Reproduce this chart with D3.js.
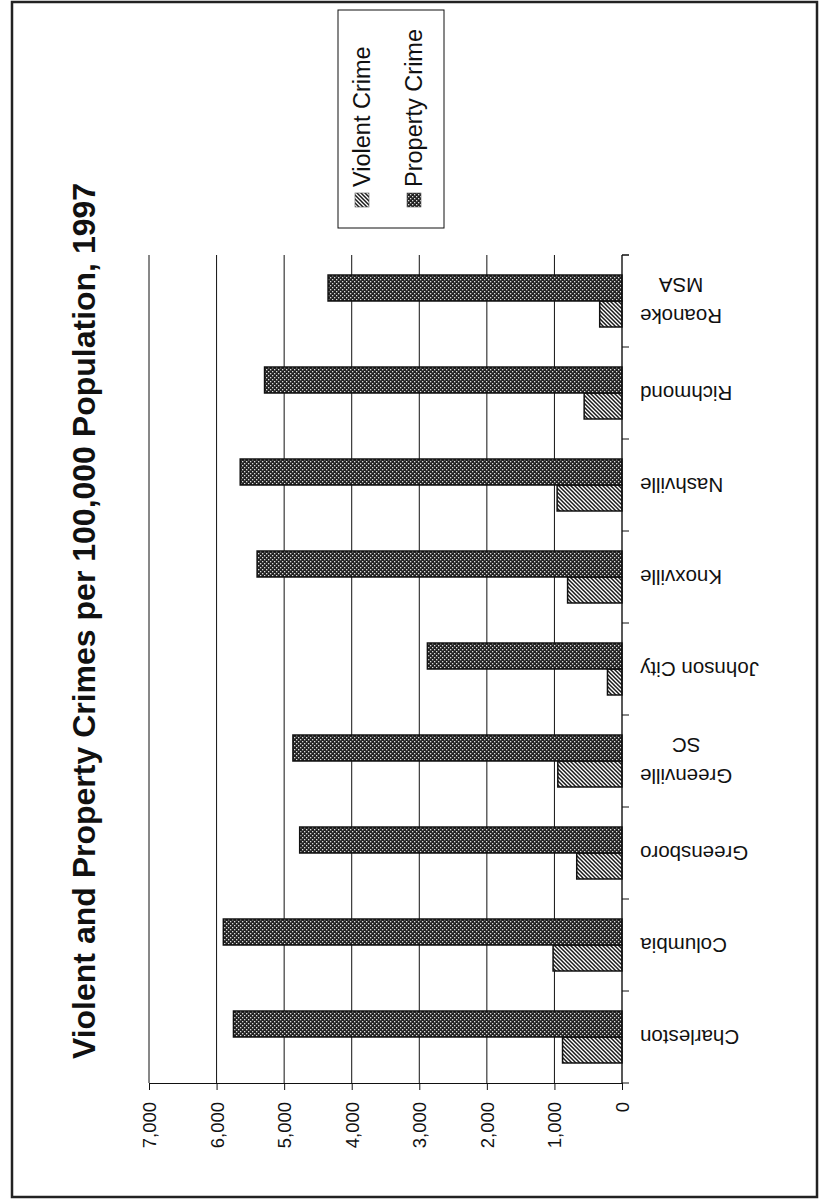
<!DOCTYPE html>
<html>
<head>
<meta charset="utf-8">
<script src="https://cdn.jsdelivr.net/npm/d3@7"></script>
<style>
  body { margin: 0; background: #fff; }
  svg text { font-family: "Liberation Sans", Arial, sans-serif; fill: #111; }
</style>
</head>
<body>
<div id="chart"></div>
<script>
var title = "Violent and Property Crimes per 100,000 Population, 1997";
var categories = ["Charleston", "Columbia", "Greensboro", "Greenville\nSC", "Johnson City",
                  "Knoxville", "Nashville", "Richmond", "Roanoke\nMSA"];
var violent = [880, 1020, 670, 950, 215, 805, 960, 560, 330];
var property = [5750, 5900, 4770, 4870, 2880, 5400, 5650, 5290, 4350];
var seriesNames = ["Violent Crime", "Property Crime"];
var valueTicks = [0, 1000, 2000, 3000, 4000, 5000, 6000, 7000];

function draw_chart() {
    var W = 820, H = 1200;
    // the page is printed sideways: values run right to left, cities top to bottom
    var plot = { left: 149, right: 622, top: 255, bottom: 1083 };

    var svg = d3.select("#chart")
        .append("svg")
        .attr("width", W)
        .attr("height", H);

    var defs = svg.append("defs");
    var pv = defs.append("pattern")
        .attr("id", "hatch")
        .attr("patternUnits", "userSpaceOnUse")
        .attr("width", 4).attr("height", 4);
    pv.append("rect").attr("width", 4).attr("height", 4).attr("fill", "#fff");
    pv.append("path")
        .attr("d", "M0,0L4,4M-1,3L1,5M3,-1L5,1")
        .attr("stroke", "#1a1a1a")
        .attr("stroke-width", 1.5);

    var pp = defs.append("pattern")
        .attr("id", "dots")
        .attr("patternUnits", "userSpaceOnUse")
        .attr("width", 4).attr("height", 4);
    pp.append("rect").attr("width", 4).attr("height", 4).attr("fill", "#222");
    pp.append("rect").attr("x", 0).attr("y", 0).attr("width", 1.3).attr("height", 1.3).attr("fill", "#ddd");
    pp.append("rect").attr("x", 2).attr("y", 2).attr("width", 1.3).attr("height", 1.3).attr("fill", "#ddd");

    var fills = { "Violent Crime": "url(#hatch)", "Property Crime": "url(#dots)" };

    // page border
    svg.append("rect")
        .attr("x", 12).attr("y", 2)
        .attr("width", 805).attr("height", 1195)
        .attr("fill", "none")
        .attr("stroke", "#222")
        .attr("stroke-width", 2.5);

    var x = d3.scaleLinear()
        .domain([0, 7000])
        .range([plot.right, plot.left]);

    var y0 = d3.scaleBand()
        .domain(categories)
        .range([plot.bottom, plot.top]);

    var y1 = d3.scaleBand()
        .domain(["Property Crime", "Violent Crime"])
        .range([0, y0.bandwidth()])
        .paddingOuter(0.77);

    // gridlines
    svg.append("g")
        .selectAll("line")
        .data(valueTicks.filter(function(d) { return d > 0; }))
        .enter()
        .append("line")
        .attr("x1", function(d) { return x(d); })
        .attr("x2", function(d) { return x(d); })
        .attr("y1", plot.top)
        .attr("y2", plot.bottom)
        .attr("stroke", "#111")
        .attr("stroke-width", 1);

    // value axis along the bottom edge
    var xAxis = svg.append("g")
        .attr("transform", "translate(0," + plot.bottom + ")")
        .call(d3.axisBottom(x).tickValues(valueTicks).tickFormat(d3.format(",")).tickSize(7).tickSizeOuter(0));
    xAxis.select(".domain").attr("stroke", "#111").attr("stroke-width", 1.2);
    xAxis.selectAll(".tick line").attr("stroke", "#111");
    xAxis.selectAll(".tick text")
        .attr("transform", "translate(0,19) rotate(-90)")
        .attr("x", 0).attr("y", 0)
        .attr("dy", "0.35em")
        .attr("text-anchor", "end")
        .style("font-size", "18.5px")
        .style("font-family", "'Liberation Sans', Arial, sans-serif")
        .attr("fill", "#111");

    // bars
    var rows = categories.map(function(c, i) {
        return { cat: c, values: [
            { name: "Violent Crime", value: violent[i] },
            { name: "Property Crime", value: property[i] }
        ] };
    });

    svg.append("g")
        .selectAll("g")
        .data(rows)
        .enter()
        .append("g")
        .attr("transform", function(d) { return "translate(0," + y0(d.cat) + ")"; })
        .selectAll("rect")
        .data(function(d) { return d.values; })
        .enter()
        .append("rect")
        .attr("x", function(d) { return x(d.value); })
        .attr("y", function(d) { return y1(d.name); })
        .attr("width", function(d) { return x(0) - x(d.value); })
        .attr("height", y1.bandwidth())
        .attr("fill", function(d) { return fills[d.name]; })
        .attr("stroke", "#111")
        .attr("stroke-width", 1.5);

    // category axis on the right side of the plot
    svg.append("line")
        .attr("x1", x(0)).attr("x2", x(0))
        .attr("y1", plot.top).attr("y2", plot.bottom)
        .attr("stroke", "#111")
        .attr("stroke-width", 1.4);

    var bounds = categories.map(function(c) { return y0(c); }).concat([plot.top, plot.bottom]);
    svg.append("g")
        .selectAll("line")
        .data(bounds)
        .enter()
        .append("line")
        .attr("x1", x(0)).attr("x2", x(0) + 7)
        .attr("y1", function(d) { return d; })
        .attr("y2", function(d) { return d; })
        .attr("stroke", "#111");

    var lineH = 31;
    var labels = svg.append("g")
        .selectAll("text")
        .data(categories)
        .enter()
        .append("text")
        .attr("text-anchor", "middle")
        .style("font-size", "20.5px");
    labels.each(function(c) {
        var lines = c.split("\n");
        var t = d3.select(this);
        lines.forEach(function(s, i) {
            t.append("tspan")
                .attr("x", 0)
                .attr("y", (i - (lines.length - 1) / 2) * lineH)
                .attr("dy", "0.35em")
                .text(s);
        });
        var w = this.getBBox().width;
        var cy = y0(c) + y0.bandwidth() / 2;
        t.attr("transform", "translate(" + (x(0) + 18 + w / 2) + "," + cy + ") rotate(180)");
    });

    // title
    svg.append("text")
        .attr("transform", "translate(84,621) rotate(-90)")
        .attr("dy", "0.35em")
        .attr("text-anchor", "middle")
        .style("font-size", "32px")
        .style("font-weight", "bold")
        .text(title);

    // legend
    var legend = svg.append("g");
    legend.append("rect")
        .attr("x", 338).attr("y", 10)
        .attr("width", 106).attr("height", 218)
        .attr("fill", "#fff")
        .attr("stroke", "#111");

    var legendX = d3.scalePoint().domain(seriesNames).range([362, 414]);
    var items = legend.selectAll("g.item")
        .data(seriesNames)
        .enter()
        .append("g")
        .attr("class", "item");
    items.append("rect")
        .attr("x", function(d) { return legendX(d) - 7; })
        .attr("y", 193)
        .attr("width", 14).attr("height", 14)
        .attr("fill", function(d) { return fills[d]; })
        .attr("stroke", "#555")
        .attr("stroke-width", 0.6);
    items.append("text")
        .attr("transform", function(d) { return "translate(" + legendX(d) + ",187) rotate(-90)"; })
        .attr("dy", "0.35em")
        .style("font-size", "23.5px")
        .text(function(d) { return d; });
}

draw_chart();
</script>
</body>
</html>
